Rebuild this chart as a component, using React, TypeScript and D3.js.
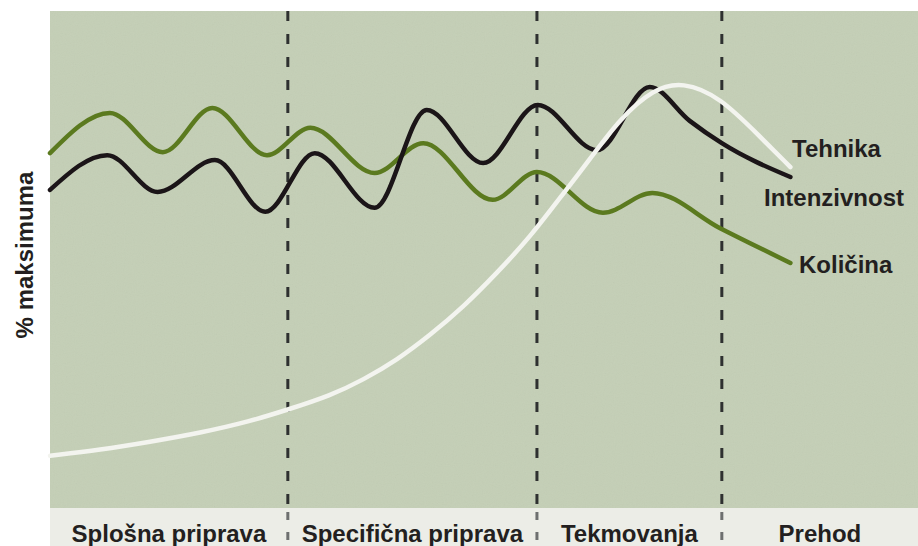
import React from "react";
import * as d3 from "d3";

// x: % of the season (0..100), y: % maksimuma (0..100)
const phases = ["Splošna priprava", "Specifična priprava", "Tekmovanja", "Prehod"];
const phaseBounds = [0, 27.4, 56.1, 77.4, 100];

const seriesNames = ["Količina", "Intenzivnost", "Tehnika"];

const kolicina: [number, number][] = [
  [0, 71.4], [6.9, 79.5], [13.0, 71.6], [18.7, 80.5], [25.0, 71.0], [30.0, 76.5],
  [37.4, 67.4], [43.0, 73.4], [51.0, 62.0], [56.1, 67.6], [63.7, 59.4], [69.4, 63.4],
  [77.2, 56.3], [85.3, 49.3],
];

const intenzivnost: [number, number][] = [
  [0, 64.0], [6.6, 71.0], [12.4, 63.6], [19.0, 70.0], [24.8, 59.6], [30.5, 71.4],
  [37.4, 60.4], [43.4, 80.1], [49.9, 69.4], [56.2, 81.1], [63.0, 72.0], [69.1, 84.7],
  [73.7, 77.9], [77.4, 73.4], [85.3, 66.6],
];

const tehnika: [number, number][] = [
  [0, 10.5], [5.8, 11.7], [11.5, 13.3], [17.3, 15.1], [23.0, 17.4], [27.4, 19.8],
  [32.3, 22.6], [36.1, 25.8], [40.0, 29.8], [43.8, 34.8], [47.6, 40.4], [51.5, 47.3],
  [55.3, 54.5], [59.1, 63.2], [62.2, 70.2], [65.7, 78.4], [69.5, 84.3], [72.9, 85.8],
  [77.2, 82.7], [81.8, 74.7], [85.3, 68.6],
];

const W = 918;
const H = 546;
const left = 50;
const right = 918;
const top = 11;
const plotBottom = 508;
const stripBottom = 546;

export default function App() {
  const x = d3.scaleLinear().domain([0, 100]).range([left, right]);
  const y = d3.scaleLinear().domain([0, 100]).range([plotBottom, top]);
  const makeLine = (curve: d3.CurveFactory) =>
    d3
      .line<[number, number]>()
      .x((d) => x(d[0]))
      .y((d) => y(d[1]))
      .curve(curve);

  const font = "'Liberation Sans', Arial, Helvetica, sans-serif";
  const series = [
    { name: seriesNames[0], data: kolicina, color: "#5b7a1f", label: [799, 273], curve: d3.curveMonotoneX },
    { name: seriesNames[1], data: intenzivnost, color: "#1b1518", label: [764, 206], curve: d3.curveMonotoneX },
    { name: seriesNames[2], data: tehnika, color: "#f3f4ef", label: [792, 157], curve: d3.curveBasis },
  ];

  return (
    <svg
      width={W}
      height={H}
      style={{ position: "absolute", left: 0, top: 0, background: "#ffffff" }}
    >
      <defs>
        <filter id="grain" x="0" y="0" width="100%" height="100%">
          <feTurbulence type="fractalNoise" baseFrequency="0.9" numOctaves="2" seed="3" />
          <feColorMatrix type="saturate" values="0" />
          <feComponentTransfer>
            <feFuncA type="linear" slope="0.08" />
          </feComponentTransfer>
        </filter>
      </defs>
      <rect x={left} y={top} width={right - left} height={plotBottom - top} fill="#c4cfb6" />
      <rect x={left} y={top} width={right - left} height={plotBottom - top} filter="url(#grain)" />
      <rect x={left} y={plotBottom} width={right - left} height={stripBottom - plotBottom} fill="#ecede7" />

      {phaseBounds.slice(1, -1).map((b, i) => (
        <g key={i}>
          <line
            x1={x(b)}
            x2={x(b)}
            y1={top}
            y2={plotBottom}
            stroke="#2e3030"
            strokeWidth={3}
            strokeDasharray="10 13"
          />
          <line
            x1={x(b)}
            x2={x(b)}
            y1={plotBottom + 4}
            y2={stripBottom}
            stroke="#6e7070"
            strokeWidth={3}
            strokeDasharray="8 12"
          />
        </g>
      ))}

      {series.map((s) => (
        <path
          key={s.name}
          d={makeLine(s.curve)(s.data) || ""}
          fill="none"
          stroke={s.color}
          strokeWidth={4.5}
          strokeLinecap="round"
          strokeLinejoin="round"
        />
      ))}

      {series.map((s) => (
        <text
          key={s.name + "l"}
          x={s.label[0]}
          y={s.label[1]}
          fontFamily={font}
          fontWeight="bold"
          fontSize={24}
          fill="#231f20"
        >
          {s.name}
        </text>
      ))}

      {phases.map((p, i) => (
        <text
          key={p}
          x={(x(phaseBounds[i]) + x(phaseBounds[i + 1])) / 2}
          y={542}
          textAnchor="middle"
          fontFamily={font}
          fontWeight="bold"
          fontSize={24}
          fill="#231f20"
        >
          {p}
        </text>
      ))}

      <text
        transform={`translate(33, 255) rotate(-90)`}
        textAnchor="middle"
        fontFamily={font}
        fontWeight="bold"
        fontSize={24}
        fill="#231f20"
      >
        % maksimuma
      </text>
    </svg>
  );
}
